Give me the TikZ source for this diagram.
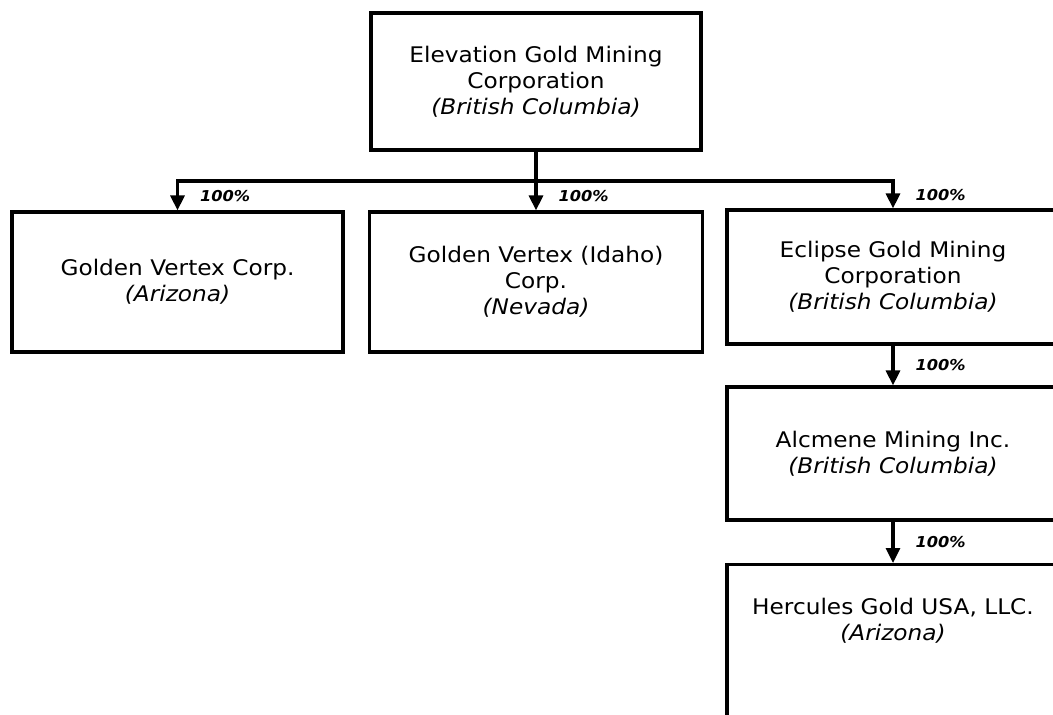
\documentclass[tikz,border=0pt]{standalone}
\usepackage{fontspec}
\setmainfont{DejaVu Sans}[FakeStretch=1.08]
\usetikzlibrary{arrows.meta}
\tikzset{
  box/.style={draw, line width=3.2pt, minimum width=331pt, inner sep=0pt, align=center,
    font=\fontsize{21.5}{26}\selectfont},
  conn/.style={line width=3.2pt, line join=miter},
  arr/.style={conn, -{Triangle[width=14pt,length=15pt]}},
  pct/.style={font=\fontsize{15}{17}\selectfont\bfseries\itshape, anchor=west, inner sep=0pt, xshift=21pt}
}
\begin{document}
\begin{tikzpicture}[x=1pt,y=-1pt]
\useasboundingbox (0,0) rectangle (1053,715);
\clip (0,0) rectangle (1053,715);
\node[box, minimum width=330pt, minimum height=137pt] (T) at (536,81.5)
  {Elevation Gold Mining\\Corporation\\\textit{(British Columbia)}};
\node[box, minimum height=140pt] (A) at (177.5,282)
  {Golden Vertex Corp.\\\textit{(Arizona)}};
\node[box, minimum width=333pt, minimum height=140pt] (B) at (536,282)
  {Golden Vertex (Idaho)\\Corp.\\\textit{(Nevada)}};
\node[box, minimum width=332pt, minimum height=134pt] (C) at (893,277)
  {Eclipse Gold Mining\\Corporation\\\textit{(British Columbia)}};
\node[box, minimum width=332pt, minimum height=133pt] (D) at (893,453.5)
  {Alcmene Mining Inc.\\\textit{(British Columbia)}};
\node[box, minimum width=332pt, minimum height=200pt, anchor=north] (E) at (893,563) {};
\node[align=center, inner sep=0pt, font=\fontsize{21.5}{26}\selectfont] (Et) at (893,621)
  {Hercules Gold USA, LLC.\\\textit{(Arizona)}};
\coordinate (bus) at (536,181);
\draw[conn] (T.south) -- (T.south |- bus);
\draw[arr] (B.north |- bus) -| (A.north) node[pct, pos=0.75] (lA) {100\%};
\draw[arr] (B.north |- bus) -| (C.north) node[pct, pos=0.75] (lC) {100\%};
\draw[arr] (B.north |- bus) -- (B.north) node[pct, midway] (lB) {100\%};
\draw[arr] (C.south) -- (D.north) node[pct, midway] (lD) {100\%};
\draw[arr] (D.south) -- (E.north) node[pct, midway] (lE) {100\%};
\end{tikzpicture}
\end{document}
